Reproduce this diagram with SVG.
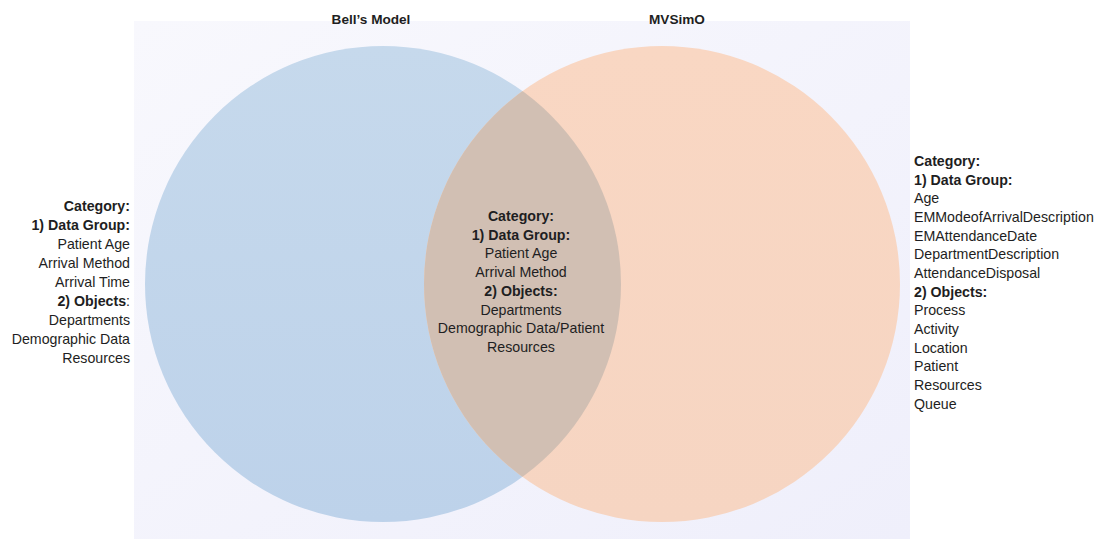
<svg xmlns="http://www.w3.org/2000/svg" width="1109" height="539" viewBox="0 0 1109 539">
  <defs>
    <linearGradient id="panelFill" x1="0" y1="0" x2="1" y2="1">
      <stop offset="0" stop-color="#f8f8fd"/>
      <stop offset="1" stop-color="#efeffb"/>
    </linearGradient>
    <linearGradient id="blueFill" x1="0" y1="0" x2="0" y2="1">
      <stop offset="0" stop-color="#c6d9ec"/>
      <stop offset="1" stop-color="#bdd2ea"/>
    </linearGradient>
    <linearGradient id="orangeFill" x1="0" y1="0" x2="0" y2="1">
      <stop offset="0" stop-color="#f9d7c3"/>
      <stop offset="1" stop-color="#f6d5c2"/>
    </linearGradient>
    <clipPath id="blueClip">
      <circle cx="383" cy="284" r="238"/>
    </clipPath>
    <style>
      text { font-family: "Liberation Sans", Arial, sans-serif; font-size: 14.2px; fill: #1e1e22; }
      .b { font-weight: bold; }
      .title { font-weight: bold; font-size: 13.6px; text-anchor: middle; }
      .left { text-anchor: end; }
      .mid { text-anchor: middle; }
      .right { text-anchor: start; }
    </style>
  </defs>

  <!-- backdrop panel -->
  <rect x="134" y="21" width="776" height="518" fill="url(#panelFill)"/>

  <!-- set A: Bell's Model -->
  <g id="bells-model">
    <circle cx="383" cy="284" r="238" fill="url(#blueFill)"/>
    <text class="title" x="371" y="24">Bell’s Model</text>
  </g>

  <!-- set B: MVSimO -->
  <g id="mvsimo">
    <circle cx="662" cy="284" r="238" fill="url(#orangeFill)"/>
    <text class="title" x="677" y="24">MVSimO</text>
  </g>

  <!-- shared region of both sets -->
  <g id="overlap">
    <circle cx="662" cy="284" r="238" fill="#d1bfb3" clip-path="url(#blueClip)"/>
  </g>

  <!-- items only in Bell's Model -->
  <g id="bells-items">
    <text class="left b" x="130" y="211">Category:</text>
    <text class="left b" x="130" y="230">1) Data Group:</text>
    <text class="left" x="130" y="249">Patient Age</text>
    <text class="left" x="130" y="268">Arrival Method</text>
    <text class="left" x="130" y="287">Arrival Time</text>
    <text class="left" x="130" y="306"><tspan class="b">2) Objects</tspan>:</text>
    <text class="left" x="130" y="325">Departments</text>
    <text class="left" x="130" y="344">Demographic Data</text>
    <text class="left" x="130" y="363">Resources</text>
  </g>

  <!-- items common to both -->
  <g id="shared-items">
    <text class="mid b" x="521" y="221">Category:</text>
    <text class="mid b" x="521" y="240">1) Data Group:</text>
    <text class="mid" x="521" y="258">Patient Age</text>
    <text class="mid" x="521" y="277">Arrival Method</text>
    <text class="mid b" x="521" y="296">2) Objects:</text>
    <text class="mid" x="521" y="315">Departments</text>
    <text class="mid" x="521" y="333">Demographic Data/Patient</text>
    <text class="mid" x="521" y="352">Resources</text>
  </g>

  <!-- items only in MVSimO -->
  <g id="mvsimo-items">
    <text class="right b" x="914" y="166">Category:</text>
    <text class="right b" x="914" y="185">1) Data Group:</text>
    <text class="right" x="914" y="203">Age</text>
    <text class="right" x="914" y="222">EMModeofArrivalDescription</text>
    <text class="right" x="914" y="241">EMAttendanceDate</text>
    <text class="right" x="914" y="259">DepartmentDescription</text>
    <text class="right" x="914" y="278">AttendanceDisposal</text>
    <text class="right b" x="914" y="297">2) Objects:</text>
    <text class="right" x="914" y="315">Process</text>
    <text class="right" x="914" y="334">Activity</text>
    <text class="right" x="914" y="353">Location</text>
    <text class="right" x="914" y="371">Patient</text>
    <text class="right" x="914" y="390">Resources</text>
    <text class="right" x="914" y="409">Queue</text>
  </g>
</svg>
